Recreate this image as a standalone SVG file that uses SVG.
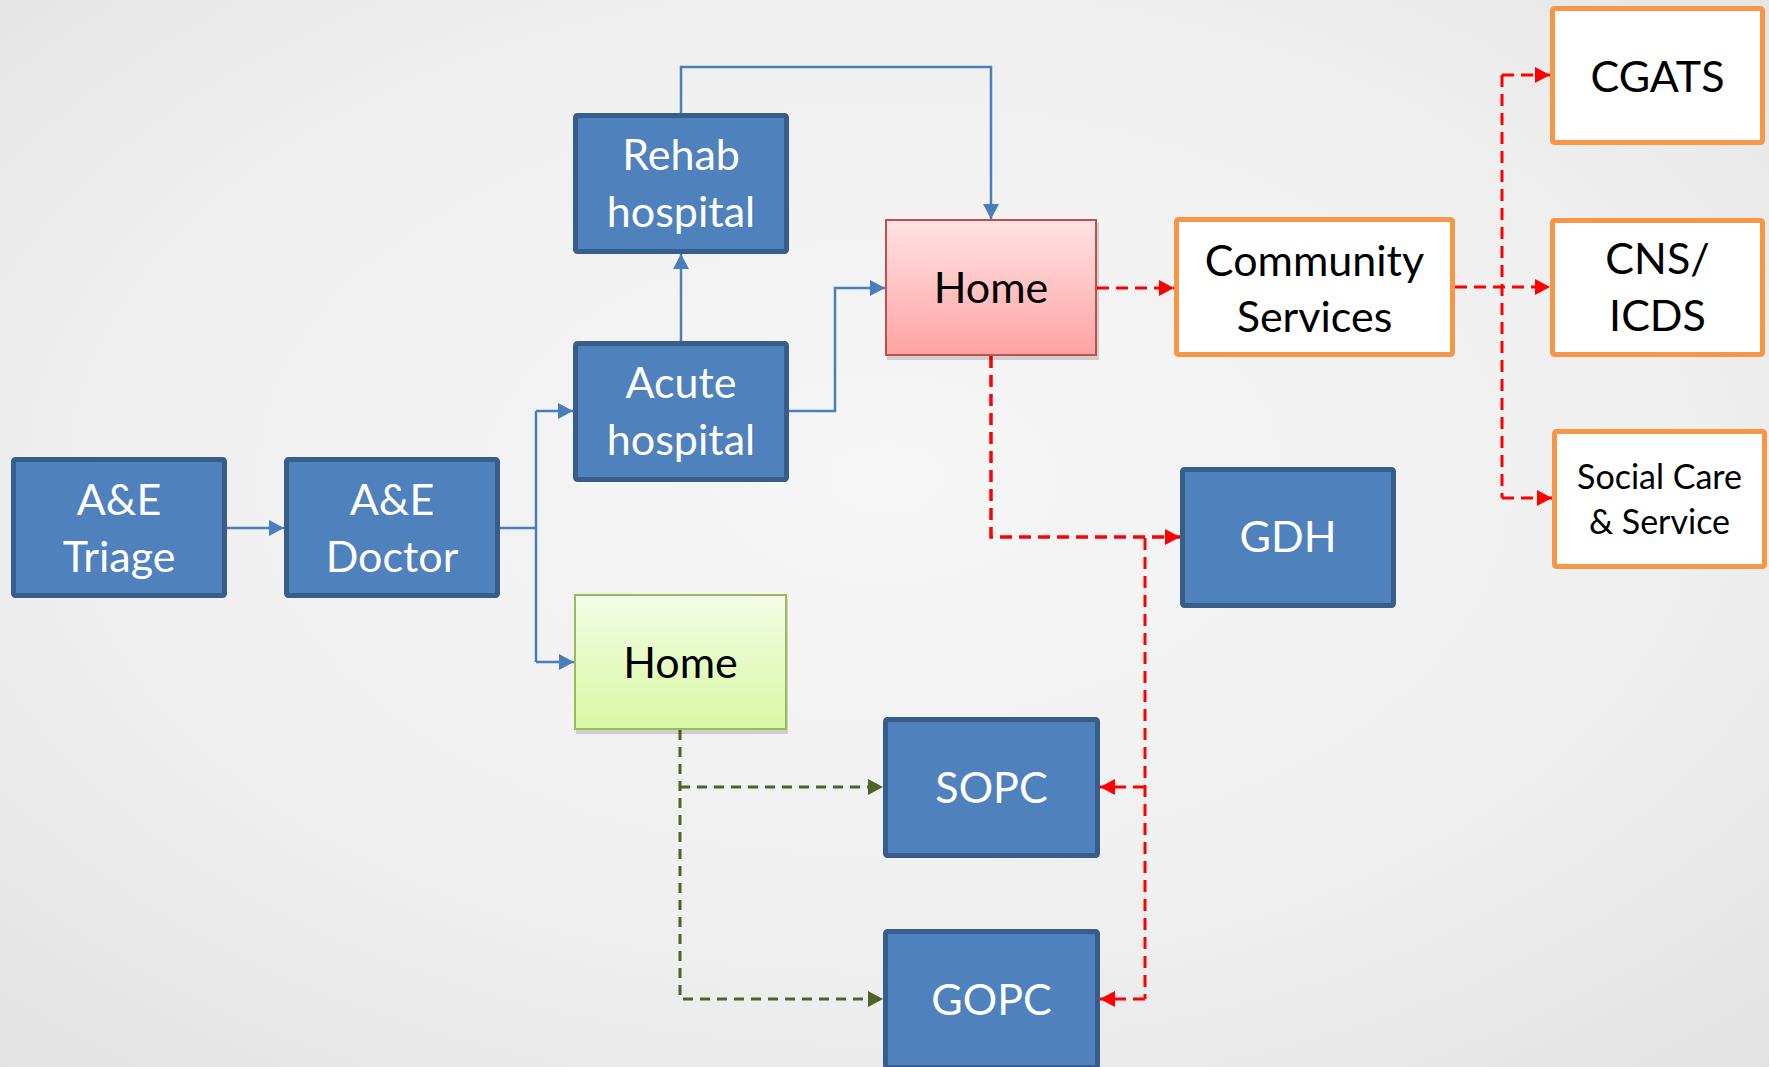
<svg xmlns="http://www.w3.org/2000/svg" width="1769" height="1067" viewBox="0 0 1769 1067">
<defs>
<radialGradient id="bg" cx="0.5" cy="0.45" r="0.75">
<stop offset="0" stop-color="#f6f6f6"/>
<stop offset="0.6" stop-color="#efefef"/>
<stop offset="1" stop-color="#e2e2e2"/>
</radialGradient>
<linearGradient id="redFill" x1="0" y1="0" x2="0" y2="1">
<stop offset="0" stop-color="#ffe3e3"/>
<stop offset="1" stop-color="#ffa3a3"/>
</linearGradient>
<linearGradient id="greenFill" x1="0" y1="0" x2="0" y2="1">
<stop offset="0" stop-color="#f3fce6"/>
<stop offset="1" stop-color="#d8f8a4"/>
</linearGradient>
<marker id="aBlue" markerUnits="userSpaceOnUse" markerWidth="16" markerHeight="16" refX="15" refY="8" orient="auto">
<path d="M0,0 L15,8 L0,16 Z" fill="#4a7ebb"/>
</marker>
<marker id="aRed" markerUnits="userSpaceOnUse" markerWidth="16" markerHeight="16" refX="15" refY="8" orient="auto">
<path d="M0,0 L15,8 L0,16 Z" fill="#ff0000"/>
</marker>
<marker id="aGreen" markerUnits="userSpaceOnUse" markerWidth="16" markerHeight="16" refX="15" refY="8" orient="auto">
<path d="M0,0 L15,8 L0,16 Z" fill="#4f6228"/>
</marker>
<style>
.blue{fill:#4f81bd;stroke:#385d8a;stroke-width:5}
.orange{fill:#ffffff;stroke:#f79646;stroke-width:5}
.shadow{fill:#000000;opacity:0.15}
text{font-family:Lato,"Open Sans","Liberation Sans",sans-serif;font-size:43px;text-anchor:middle}
.w{fill:#ffffff}
.k{fill:#000000}
.small{font-size:34px}
.cb{fill:none;stroke:#4a7ebb;stroke-width:2.5}
.cr{fill:none;stroke:#ff0000;stroke-width:3;stroke-dasharray:12 7}
.cg{fill:none;stroke:#4f6228;stroke-width:3;stroke-dasharray:10 7}
</style>
</defs>
<rect x="0" y="0" width="1769" height="1067" fill="url(#bg)"/>

<g id="connectors">
<path class="cb" d="M227,528 H284" marker-end="url(#aBlue)"/>
<path class="cb" d="M500,528 H536"/>
<path class="cb" d="M536,411 V662"/>
<path class="cb" d="M536,411 H573" marker-end="url(#aBlue)"/>
<path class="cb" d="M536,662 H574" marker-end="url(#aBlue)"/>
<path class="cb" d="M681,341 V254" marker-end="url(#aBlue)"/>
<path class="cb" d="M789,411 H835 V288 H885" marker-end="url(#aBlue)"/>
<path class="cb" d="M681,113 V67 H991 V219" marker-end="url(#aBlue)"/>

<path class="cr" d="M1097,288 H1174" marker-end="url(#aRed)"/>
<path class="cr" d="M1455,287 H1550" marker-end="url(#aRed)"/>
<path class="cr" d="M1502,75 V498"/>
<path class="cr" d="M1502,75 H1550" marker-end="url(#aRed)"/>
<path class="cr" d="M1502,498 H1552" marker-end="url(#aRed)"/>
<path class="cr" d="M991,356 V537 H1180" marker-end="url(#aRed)" style="stroke-width:3.5"/>
<path class="cr" d="M1145,538 V999"/>
<path class="cr" d="M1145,787 H1100" marker-end="url(#aRed)"/>
<path class="cr" d="M1145,999 H1100" marker-end="url(#aRed)"/>

<path class="cg" d="M680,730 V999 H883" marker-end="url(#aGreen)"/>
<path class="cg" d="M680,787 H883" marker-end="url(#aGreen)"/>
</g>

<g id="ae-triage">
<rect class="blue" x="13.5" y="459.5" width="211" height="136" rx="2"/>
<text class="w" x="119" y="515">A&amp;E</text>
<text class="w" x="119" y="572">Triage</text>
</g>
<g id="ae-doctor">
<rect class="blue" x="286.5" y="459.5" width="211" height="136" rx="2"/>
<text class="w" x="392" y="515">A&amp;E</text>
<text class="w" x="392" y="572">Doctor</text>
</g>
<g id="rehab-hospital">
<rect class="blue" x="575.5" y="115.5" width="211" height="136" rx="2"/>
<text class="w" x="681" y="170">Rehab</text>
<text class="w" x="681" y="227">hospital</text>
</g>
<g id="acute-hospital">
<rect class="blue" x="575.5" y="343.5" width="211" height="136" rx="2"/>
<text class="w" x="681" y="398">Acute</text>
<text class="w" x="681" y="455">hospital</text>
</g>
<g id="home-red">
<rect class="shadow" x="887" y="223" width="212" height="137"/>
<rect x="886" y="220" width="210" height="135" fill="url(#redFill)" stroke="#c0504d" stroke-width="2"/>
<text class="k" x="991" y="303">Home</text>
</g>
<g id="community-services">
<rect class="orange" x="1176.5" y="219.5" width="276" height="135" rx="2"/>
<text class="k" x="1314.5" y="276">Community</text>
<text class="k" x="1314.5" y="332">Services</text>
</g>
<g id="cgats">
<rect class="orange" x="1552.5" y="8.5" width="210" height="134" rx="2"/>
<text class="k" x="1657.5" y="92">CGATS</text>
</g>
<g id="cns-icds">
<rect class="orange" x="1552.5" y="220.5" width="210" height="134" rx="2"/>
<text class="k" x="1657.5" y="274">CNS/</text>
<text class="k" x="1657.5" y="331">ICDS</text>
</g>
<g id="social-care">
<rect class="orange" x="1554.5" y="431.5" width="210" height="135" rx="2"/>
<text class="k small" x="1659.5" y="489">Social Care</text>
<text class="k small" x="1659.5" y="534">&amp; Service</text>
</g>
<g id="gdh">
<rect class="blue" x="1182.5" y="469.5" width="211" height="136" rx="2"/>
<text class="w" x="1288" y="552">GDH</text>
</g>
<g id="home-green">
<rect class="shadow" x="576" y="598" width="212" height="136"/>
<rect x="575" y="595" width="211" height="134" fill="url(#greenFill)" stroke="#9bbb59" stroke-width="2"/>
<text class="k" x="680.5" y="678">Home</text>
</g>
<g id="sopc">
<rect class="blue" x="885.5" y="719.5" width="212" height="136" rx="2"/>
<text class="w" x="991.5" y="803">SOPC</text>
</g>
<g id="gopc">
<rect class="blue" x="885.5" y="931.5" width="212" height="136" rx="2"/>
<text class="w" x="991.5" y="1015">GOPC</text>
</g>
</svg>
